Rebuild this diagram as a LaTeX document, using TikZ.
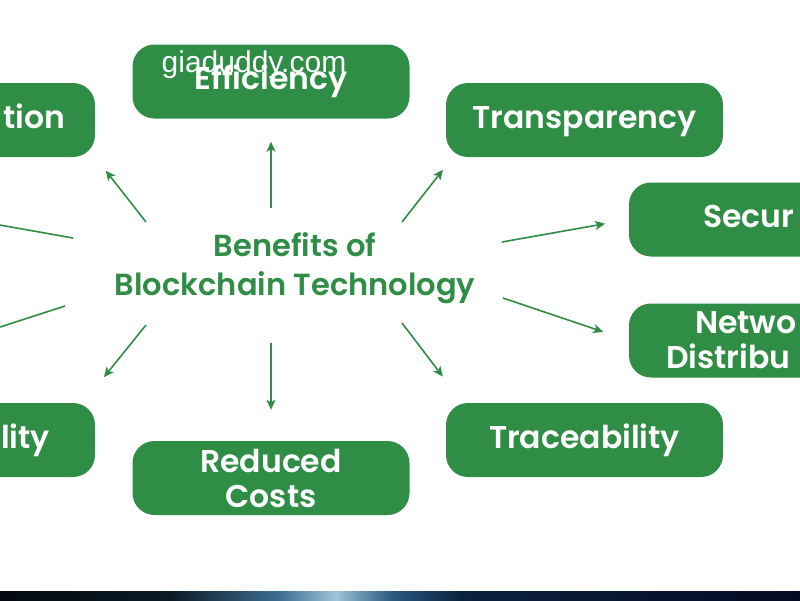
\documentclass[tikz,border=0pt]{standalone}
\usepackage{fontspec}
\usetikzlibrary{arrows.meta}
\IfFontExistsTF{Poppins SemiBold}{\newfontfamily\boxfont{Poppins SemiBold}}{\newfontfamily\boxfont{Poppins}}
\newfontfamily\markfont{Liberation Sans}
\definecolor{leafgreen}{HTML}{2F8D46}
\definecolor{stripA}{HTML}{03090F}
\definecolor{stripB}{HTML}{0A1A26}
\definecolor{stripC}{HTML}{3D6F92}
\definecolor{stripD}{HTML}{9EC3DA}
\definecolor{stripE}{HTML}{2D5A80}
\definecolor{stripF}{HTML}{0B2140}
\definecolor{stripG}{HTML}{050A22}
\pgfdeclarehorizontalshading{stripshade}{100bp}{color(0bp)=(stripA); color(25bp)=(stripA); color(35.6bp)=(stripB); color(42.5bp)=(stripC); color(46bp)=(stripD); color(49.4bp)=(stripE); color(53.8bp)=(stripF); color(75bp)=(stripG); color(100bp)=(stripG)}
\begin{document}
\begin{tikzpicture}[x=1pt,y=-1pt,benefit/.style={shape=rectangle,rounded corners=22pt,fill=leafgreen,text=white,minimum width=277pt,minimum height=74pt,inner xsep=0pt,align=center,font=\boxfont\fontsize{31.5}{35}\selectfont},oneline/.style={benefit,text height=24pt,text depth=8pt},hub/.style={text=leafgreen,align=center,font=\boxfont\fontsize{30.5}{39}\selectfont},arr/.style={draw=leafgreen,line width=1.6pt,-{Stealth[length=10pt,width=9pt,inset=2.5pt]}},wmark/.style={text=white,font=\markfont\fontsize{30}{30}\selectfont}]
\useasboundingbox (0,0) rectangle (800,600);
\clip (0,0) rectangle (800,600);
\fill[white] (0,0) rectangle (800,600);
\shade[shading=stripshade] (0,591.5) rectangle (800,600);

\node[hub] (mid) at (295,268) {Benefits of\\Blockchain Technology};

\node[oneline] (eff) at (271,81.5) {Efficiency};
\node[oneline] (trans) at (584.5,120) {Transparency};
\node[oneline,text width=129pt,align=left] (sec) at (767.5,219.5) {Secur};
\node[benefit,text width=203pt,align=left] (net) at (767.5,340.5) {\hspace*{29pt}Netwo\\Distribu};
\node[oneline] (trace) at (584.5,440) {Traceability};
\node[benefit] (cost) at (271,478) {Reduced\\Costs};
\node[oneline,text width=187pt,align=right] (lowleft) at (-43.5,440) {lity};
\node[oneline,text width=217pt,align=right] (upleft) at (-43.5,120) {tion};

\node[wmark] (wm) at (254,65) {giaduddy.com};

\coordinate (aEff) at (271,208);
\draw[arr,shorten >=23pt] (aEff) -- (eff.south);
\coordinate (aTrans) at (402,222);
\draw[arr,shorten >=16pt] (aTrans) -- ([xshift=7pt]trans.south west);
\coordinate (aSec) at (502,242);
\draw[arr,shorten >=24pt] (aSec) -- (sec.west);
\coordinate (aNet) at (503,298);
\draw[arr,shorten >=27pt] (aNet) -- (net.west);
\coordinate (aTrace) at (402,323);
\draw[arr,shorten >=33pt] (aTrace) -- ([xshift=17pt]trace.north west);
\coordinate (aCost) at (271,343);
\draw[arr,shorten >=31pt] (aCost) -- (cost.north);
\coordinate (aLow) at (146,325);
\draw[arr,shorten >=33pt] (aLow) -- ([xshift=-12pt]lowleft.north east);
\coordinate (aUp) at (146,222);
\draw[arr,shorten >=17pt] (aUp) -- (upleft.south east);
\coordinate (aW) at (73,238);
\coordinate (tW) at (-40,218);
\draw[arr] (aW) -- (tW);
\coordinate (aWL) at (65,306);
\coordinate (tWL) at (-40,340);
\draw[arr] (aWL) -- (tWL);
\end{tikzpicture}
\end{document}
